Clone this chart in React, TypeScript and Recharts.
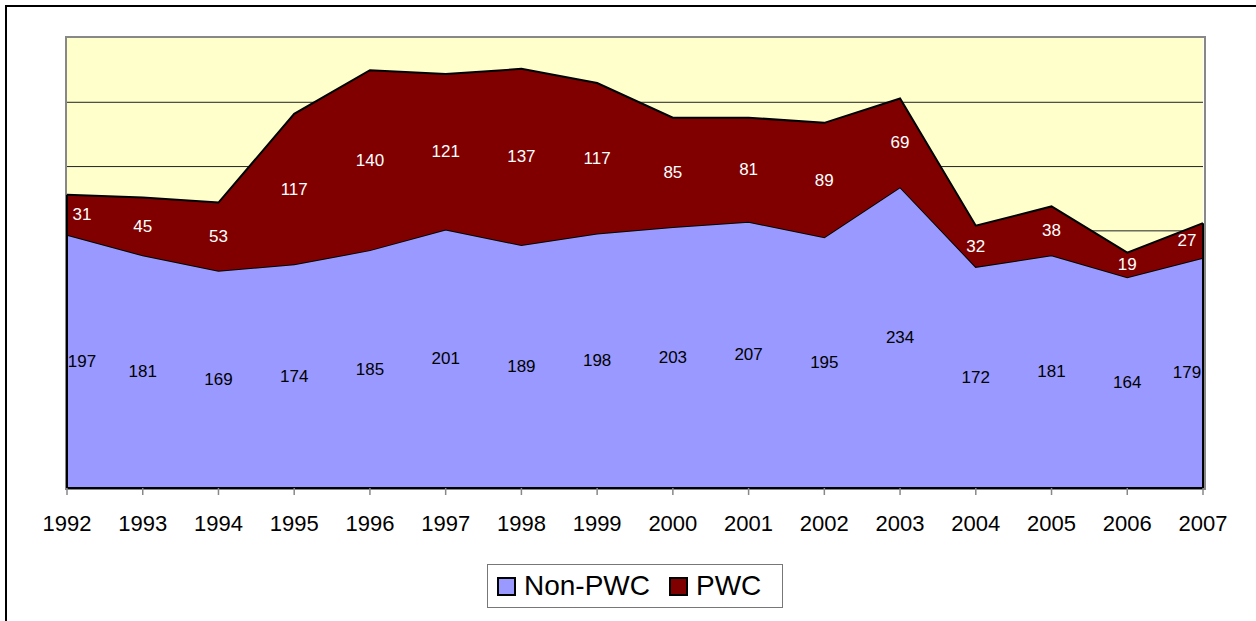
import React from 'react';
import { ComposedChart, Area, Line, XAxis, YAxis, CartesianGrid, LabelList, ReferenceLine } from 'recharts';

const years = ['1992', '1993', '1994', '1995', '1996', '1997', '1998', '1999', '2000', '2001', '2002', '2003', '2004', '2005', '2006', '2007'];
const nonPwc = [197, 181, 169, 174, 185, 201, 189, 198, 203, 207, 195, 234, 172, 181, 164, 179];
const pwc = [31, 45, 53, 117, 140, 121, 137, 117, 85, 81, 89, 69, 32, 38, 19, 27];
const yTicks = [0, 50, 100, 150, 200, 250, 300, 350];
const gridValues = [50, 100, 150, 200, 250, 300];

const data = years.map((year, i) => ({
  year,
  nonPwc: nonPwc[i],
  pwc: pwc[i],
  nonMid: nonPwc[i] / 2,
  pwcMid: nonPwc[i] + pwc[i] / 2,
}));

const FONT = "Arial, 'Liberation Sans', sans-serif";
const lastIdx = years.length - 1;

const makeLabel = (values: number[], color: string) => (props: any) => {
  const { x, y, index } = props;
  if (x == null || y == null) return null;
  let dx = 0;
  if (index === 0) dx = 15;
  if (index === lastIdx) dx = -16;
  return (
    <text
      x={x + dx}
      y={y}
      textAnchor="middle"
      dominantBaseline="central"
      fill={color}
      fontSize={17}
      fontFamily={FONT}
    >
      {values[index]}
    </text>
  );
};

export default function App() {
  const first = years[0];
  const last = years[lastIdx];
  return (
    <div style={{ position: 'absolute', left: 0, top: 0, width: 1256, height: 621, overflow: 'hidden', background: '#fff', fontFamily: FONT }}>
      <div style={{ position: 'absolute', left: 5, top: 5, width: 1300, height: 700, border: '2px solid #000', boxSizing: 'border-box' }} />
      <div style={{ position: 'absolute', left: 65, top: 36, width: 1141, height: 454, border: '2px solid #888', boxSizing: 'border-box' }} />
      <div style={{ position: 'absolute', left: 0, top: 0, zIndex: 1 }}>
        <ComposedChart width={1256} height={621} data={data} margin={{ top: 38, left: 67, right: 53, bottom: 93 }}>
          <CartesianGrid vertical={false} horizontalValues={gridValues} stroke="#222" strokeWidth={1} fill="#FFFFCC" fillOpacity={1} />
          <XAxis
            dataKey="year"
            scale="point"
            padding={{ left: 0, right: 0 }}
            interval={0}
            height={40}
            tickSize={7}
            tickMargin={20}
            axisLine={{ stroke: '#000', strokeWidth: 2 }}
            tickLine={{ stroke: '#888', strokeWidth: 1.5 }}
            tick={{ fill: '#000', fontSize: 22, fontFamily: FONT }}
          />
          <YAxis hide domain={[0, 350]} ticks={yTicks} />
          <Area
            dataKey="nonPwc"
            stackId="a"
            type="linear"
            fill="#9999FF"
            fillOpacity={1}
            stroke="#000"
            strokeWidth={2}
            isAnimationActive={false}
          />
          <Area
            dataKey="pwc"
            stackId="a"
            type="linear"
            fill="#800000"
            fillOpacity={1}
            stroke="#000"
            strokeWidth={2}
            isAnimationActive={false}
          />
          <ReferenceLine segment={[{ x: first, y: 0 }, { x: first, y: nonPwc[0] + pwc[0] }]} stroke="#000" strokeWidth={2} />
          <ReferenceLine segment={[{ x: last, y: 0 }, { x: last, y: nonPwc[lastIdx] + pwc[lastIdx] }]} stroke="#000" strokeWidth={2} />
          <Line dataKey="nonMid" stroke="none" dot={false} activeDot={false} isAnimationActive={false} legendType="none">
            <LabelList dataKey="nonMid" content={makeLabel(nonPwc, '#000')} />
          </Line>
          <Line dataKey="pwcMid" stroke="none" dot={false} activeDot={false} isAnimationActive={false} legendType="none">
            <LabelList dataKey="pwcMid" content={makeLabel(pwc, '#fff')} />
          </Line>
        </ComposedChart>
      </div>
      <div
        style={{
          position: 'absolute',
          left: 487,
          top: 564,
          width: 296,
          height: 44,
          border: '1.5px solid #777',
          boxSizing: 'border-box',
          display: 'flex',
          alignItems: 'center',
          paddingLeft: 9,
          fontSize: 28,
          color: '#000',
          zIndex: 2,
          background: '#fff',
        }}
      >
        <span style={{ display: 'inline-block', width: 19, height: 19, background: '#9999FF', border: '2px solid #000', boxSizing: 'border-box' }} />
        <span style={{ marginLeft: 8 }}>Non-PWC</span>
        <span style={{ display: 'inline-block', width: 19, height: 19, background: '#800000', border: '2px solid #000', boxSizing: 'border-box', marginLeft: 19 }} />
        <span style={{ marginLeft: 8 }}>PWC</span>
      </div>
    </div>
  );
}
